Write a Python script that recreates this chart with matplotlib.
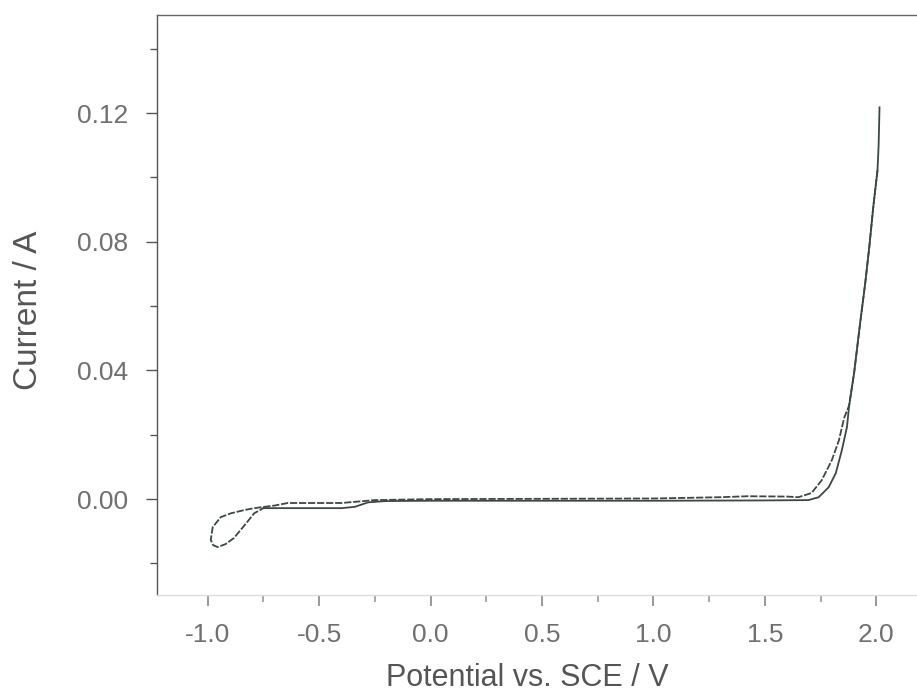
import matplotlib
matplotlib.use("Agg")
import matplotlib.pyplot as plt
from matplotlib.ticker import MultipleLocator, FormatStrFormatter

plt.rcParams['font.family'] = ['Liberation Sans', 'DejaVu Sans']

# Forward scan (from the cathodic loop junction up to the anodic limit)
pot_fwd = [-0.75, -0.60, -0.40, -0.34, -0.28, -0.20, 0.0, 0.5, 1.0, 1.5, 1.695,
           1.741, 1.786, 1.818, 1.845, 1.868, 1.877, 1.900, 1.927, 1.950, 1.968,
           1.986, 2.005, 2.010, 2.014]
cur_fwd = [-0.0028, -0.0028, -0.0028, -0.0024, -0.0010, -0.0006, -0.0005, -0.0005,
           -0.0005, -0.0004, -0.0003, 0.0006, 0.0037, 0.0081, 0.0152, 0.0224, 0.0286,
           0.0392, 0.0547, 0.0672, 0.0783, 0.0908, 0.1023, 0.110, 0.1218]

# Reverse scan (from the anodic limit back through the cathodic loop)
pot_rev = [2.005, 1.986, 1.968, 1.950, 1.927, 1.900, 1.877, 1.855, 1.832, 1.800,
           1.755, 1.709, 1.650, 1.60, 1.42, 1.30, 1.0, 0.5, 0.0, -0.25, -0.40,
           -0.64, -0.70, -0.791, -0.836, -0.895, -0.941, -0.977, -0.986, -0.975,
           -0.955, -0.920, -0.882, -0.827, -0.791, -0.75]
cur_rev = [0.1023, 0.0908, 0.0783, 0.0672, 0.0547, 0.0392, 0.0290, 0.0252, 0.0183,
           0.0121, 0.0059, 0.0019, 0.0006, 0.0008, 0.0009, 0.0006, 0.0002, 0.0001,
           0.0000, -0.0003, -0.0012, -0.0012, -0.0020, -0.0028, -0.0034, -0.0044,
           -0.0056, -0.0087, -0.0127, -0.0143, -0.0149, -0.0140, -0.0121, -0.0075,
           -0.0044, -0.0028]

x_label = "Potential vs. SCE / V"
y_label = "Current / A"

fig = plt.figure(figsize=(9.17, 6.98), dpi=100)
ax = fig.add_axes([157 / 917, 1 - 595 / 698, 770 / 917, 580 / 698])

line_color = "#3b4843"
ax.plot(pot_fwd, cur_fwd, color=line_color, lw=1.3)
ax.plot(pot_rev, cur_rev, color=line_color, lw=1.3, ls=(0, (4, 1)))

ax.set_xlim(-1.227, 2.227)
ax.set_ylim(-0.0298, 0.1505)

ax.xaxis.set_major_locator(MultipleLocator(0.5))
ax.xaxis.set_minor_locator(MultipleLocator(0.25))
ax.yaxis.set_major_locator(MultipleLocator(0.04))
ax.yaxis.set_minor_locator(MultipleLocator(0.02))
ax.xaxis.set_major_formatter(FormatStrFormatter('%.1f'))
ax.yaxis.set_major_formatter(FormatStrFormatter('%.2f'))

ax.spines['left'].set_color('#555555')
ax.spines['top'].set_color('#666666')
ax.spines['bottom'].set_color('#dddddd')
ax.spines['right'].set_color('#888888')
for s in ax.spines.values():
    s.set_linewidth(1.0)

ax.tick_params(axis='y', which='major', direction='out', length=8, width=1,
               color='#555555', labelcolor='#707070', labelsize=19, pad=13)
ax.tick_params(axis='y', which='minor', direction='out', length=5, width=1,
               color='#555555')
ax.tick_params(axis='x', which='major', direction='out', length=8, width=1.2,
               color='#888888', labelcolor='#707070', labelsize=19, pad=12)
ax.tick_params(axis='x', which='minor', direction='out', length=5, width=1.2,
               color='#999999')

ax.set_xlabel(x_label, fontsize=22, color='#555555')
ax.set_ylabel(y_label, fontsize=24, color='#555555')
ax.xaxis.label.set_va('center')
ax.yaxis.label.set_va('center')
ax.xaxis.set_label_coords(0.481, -0.143)
ax.yaxis.set_label_coords(-0.1675, 0.49)

fig.savefig("out.png", dpi=100)
